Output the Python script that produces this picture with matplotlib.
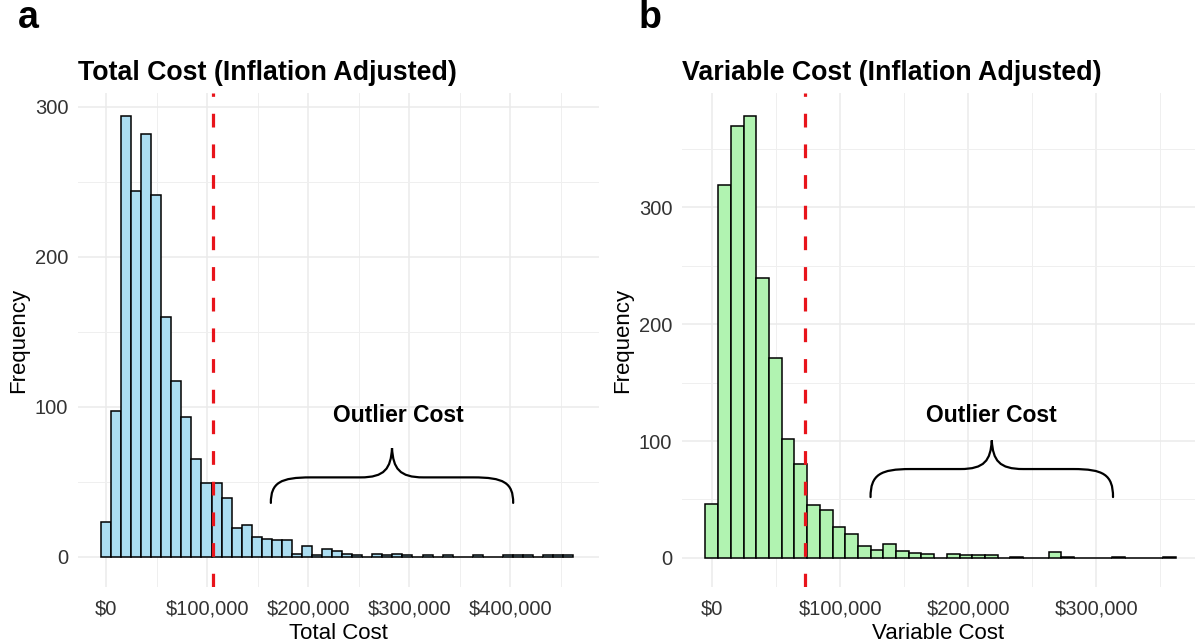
import matplotlib
matplotlib.use("Agg")
import matplotlib.pyplot as plt
from matplotlib.path import Path
from matplotlib.patches import PathPatch
from matplotlib.ticker import FuncFormatter, MultipleLocator
import numpy as np

plt.rcParams["font.family"] = ["Liberation Sans", "DejaVu Sans"]

# histogram counts (bins of ~$10k starting near -$5k)
total_counts = [23, 97, 294, 244, 282, 241, 160, 117, 93, 65, 49, 49, 39, 19, 21,
                13, 12, 11, 11, 2, 7, 1, 5, 4, 2, 1, 0, 2, 1, 2, 1, 0, 1, 0, 1,
                0, 0, 1, 0, 0, 1, 1, 1, 0, 1, 1, 1]
variable_counts = [46, 319, 370, 378, 240, 171, 102, 80, 45, 41, 26, 20, 10, 7, 12,
                   6, 4, 3, 0, 3, 2, 2, 2, 0, 1, 0, 0, 5, 1, 0, 0, 0, 1, 0, 0, 0, 1]
bin_start = -5200
total_binwidth = 9950
variable_binwidth = 9920

total_cutoff = 106000
variable_cutoff = 72400

titles = ["Total Cost (Inflation Adjusted)", "Variable Cost (Inflation Adjusted)"]
xlabels = ["Total Cost", "Variable Cost"]
panel_letters = ["a", "b"]

# brace annotation: (x_left, x_right, y_end, y_flat, y_tip, text_x, text_y)
total_brace = (163000, 403000, 36, 53, 72.5, 289000, 94)
variable_brace = (123700, 313000, 52, 76, 100.5, 218000, 122)


def draw_brace(ax, x0, x1, y0, yh, ytip):
    xm = (x0 + x1) / 2
    h = xm - x0
    verts = [
        (x0, y0),
        (x0, y0 + 0.8 * (yh - y0)), (x0 + 0.08 * h, yh), (x0 + 0.33 * h, yh),
        (xm - 0.26 * h, yh),
        (xm - 0.06 * h, yh), (xm - 0.01 * h, yh + 0.3 * (ytip - yh)), (xm, ytip),
        (xm + 0.01 * h, yh + 0.3 * (ytip - yh)), (xm + 0.06 * h, yh), (xm + 0.26 * h, yh),
        (x1 - 0.33 * h, yh),
        (x1 - 0.08 * h, yh), (x1, y0 + 0.8 * (yh - y0)), (x1, y0),
    ]
    codes = ([Path.MOVETO] + [Path.CURVE4] * 3 + [Path.LINETO] + [Path.CURVE4] * 6
             + [Path.LINETO] + [Path.CURVE4] * 3)
    ax.add_patch(PathPatch(Path(verts, codes), fill=False, lw=1.6, color="black",
                           capstyle="round"))


def draw_panel(ax, counts, binwidth, color, cutoff, title, xlabel, brace, xlim, ylim):
    counts = np.array(counts)
    edges = bin_start + binwidth * np.arange(len(counts))
    ax.bar(edges, counts, width=binwidth, align="edge", color=color,
           edgecolor="black", linewidth=1.1, zorder=2)
    ln = ax.axvline(cutoff, color="#E8141B", lw=2.3, zorder=3)
    ln.set_dashes([4.3, 5.3])

    x0, x1, y0, yh, ytip, tx, ty = brace
    draw_brace(ax, x0, x1, y0, yh, ytip)
    ax.text(tx, ty, "Outlier Cost", ha="center", va="center", fontsize=16.5,
            fontweight="bold")

    ax.set_xlim(*xlim)
    ax.set_ylim(*ylim)
    ax.xaxis.set_major_locator(MultipleLocator(100000))
    ax.xaxis.set_minor_locator(MultipleLocator(50000))
    ax.yaxis.set_major_locator(MultipleLocator(100))
    ax.yaxis.set_minor_locator(MultipleLocator(50))
    ax.xaxis.set_major_formatter(FuncFormatter(lambda v, p: f"${v:,.0f}"))
    ax.grid(True, which="major", color="#EBEBEB", lw=1.1, zorder=0)
    ax.grid(True, which="minor", color="#EFEFEF", lw=0.7, zorder=0)
    ax.set_axisbelow(True)
    for s in ax.spines.values():
        s.set_visible(False)
    ax.tick_params(which="both", length=0, labelsize=14.5, labelcolor="#333333")
    ax.tick_params(axis="x", pad=9)
    ax.tick_params(axis="y", pad=7)
    ax.set_xlabel(xlabel, fontsize=16, labelpad=3)
    ax.set_ylabel("Frequency", fontsize=16, labelpad=4)
    ax.set_title(title, loc="left", fontsize=19.3, fontweight="bold", pad=9)


fig = plt.figure(figsize=(12, 6.43), dpi=100)
ax_a = fig.add_axes([78 / 1200, 1 - 587 / 643, 521 / 1200, 494 / 643])
ax_b = fig.add_axes([682 / 1200, 1 - 587 / 643, 513 / 1200, 494 / 643])

draw_panel(ax_a, total_counts, total_binwidth, "#ABDDF1", total_cutoff, titles[0],
           xlabels[0], total_brace, (-28000, 488000), (-20, 309))
draw_panel(ax_b, variable_counts, variable_binwidth, "#B1F3B1", variable_cutoff, titles[1],
           xlabels[1], variable_brace, (-23500, 377000), (-25, 398))

fig.text(18 / 1200, 1 - 28 / 643, panel_letters[0], fontsize=27, fontweight="bold")
fig.text(639 / 1200, 1 - 28 / 643, panel_letters[1], fontsize=27, fontweight="bold")

fig.savefig("out.png", dpi=100)
